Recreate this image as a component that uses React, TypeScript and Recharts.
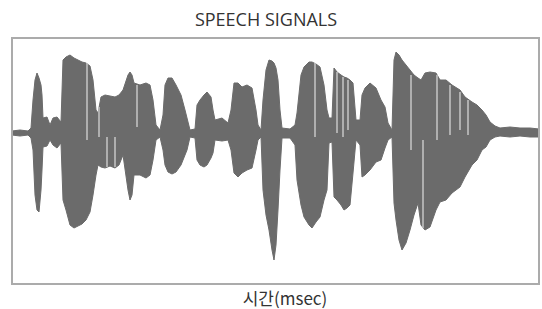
import React from "react";
import { ComposedChart, Area, XAxis, YAxis, ReferenceArea, ReferenceLine } from "recharts";

// envelope of the speech signal
const times = [
  0, 8, 16, 19, 21, 23, 25, 27, 29, 30, 31, 35, 38, 41, 45, 49, 51, 54, 58, 62, 66, 70, 74, 78, 81, 84, 86, 89,
  93, 98, 103, 107, 111, 116, 118, 120, 122, 128, 134, 138, 141, 144, 148, 151, 153, 156, 160, 164, 169, 173,
  175, 178, 183, 185, 188, 192, 195, 199, 201, 203, 210, 216, 219, 222, 226, 230, 235, 240, 244, 246, 249, 251,
  254, 257, 260, 262, 264, 266, 268, 270, 278, 283, 285, 289, 292, 297, 300, 304, 308, 312, 315, 317, 320, 322,
  325, 329, 332, 335, 338, 341, 344, 348, 350, 353, 358, 364, 369, 373, 376, 380, 382, 384, 387, 390, 394, 398,
  402, 406, 409, 413, 418, 424, 428, 434, 440, 448, 453, 460, 465, 470, 474, 478, 483, 488, 498, 508, 518, 527,
];
const upper = [
  2, 3, 2, 5, 33, 53, 60, 55, 48, 38, 15, 16, 8, 15, 16, 11, 73, 76, 78, 75, 73, 71, 70, 67, 53, 23, 20, 36,
  38, 37, 36, 38, 43, 58, 61, 58, 50, 48, 50, 48, 33, 8, 3, 18, 48, 55, 55, 48, 38, 23,
  15, 3, 4, 28, 33, 38, 41, 36, 23, 13, 15, 10, 23, 50, 50, 46, 48, 45, 23, 8, 3, 33,
  63, 73, 72, 70, 65, 53, 23, 5, 4, 8, 20, 58, 66, 71, 71, 69, 66, 48, 23, 15, 15, 65,
  61, 58, 56, 55, 53, 50, 13, 13, 38, 45, 50, 45, 33, 26, 10, 3, 73, 81, 78, 73, 68, 63,
  58, 55, 53, 60, 61, 60, 53, 53, 48, 43, 36, 31, 28, 23, 18, 11, 7, 5, 6, 5, 5, 4,
];
const lower = [
  -2, -3, -2, -5, -17, -62, -77, -79, -57, -37, -14, -13, -7, -12, -15, -10, -67, -77, -92, -95, -93, -91, -87,
  -79, -62, -42, -32, -34, -35, -33, -35, -32, -22, -57, -67, -62, -42, -42, -45, -42, -27, -7, -4, -17, -32,
  -39, -41, -39, -32, -22, -17, -4, -5, -27, -32, -34, -32, -25, -20, -7, -8, -7, -17, -40, -44, -40, -37, -35,
  -17, -7, -4, -57, -82, -97, -117, -127, -112, -77, -37, -5, -5, -12, -47, -72, -84, -92, -95, -89, -84, -67,
  -57, -10, -9, -64, -67, -72, -77, -75, -72, -40, -7, -12, -44, -42, -37, -29, -27, -15, -7, -4, -70, -87,
  -107, -117, -110, -97, -82, -70, -92, -97, -94, -77, -69, -67, -60, -54, -44, -32, -27, -17, -14, -7, -4, -3,
  -4, -3, -4, -4,
];

// light gaps between pitch pulses
const gapTimes = [75, 87, 95, 103, 125, 303, 325, 331, 336, 399, 411, 425, 438, 448, 456];
const gapUpper = [70, 26, -4, -4, 48, 70, 61, 56, 53, 58, -7, 58, 48, 41, 33];
const gapLower = [-7, -4, -34, -34, 6, -4, 0, -4, 3, -17, -95, -7, -2, 3, -2];

const rows = times.map((t, i) => ({ t, wave: [lower[i], upper[i]] }));

const App = () => {
  return (
    <div
      style={{
        position: "absolute",
        left: 0,
        top: 0,
        width: 542,
        height: 309,
        background: "#fff",
        overflow: "hidden",
      }}
    >
      <div
        style={{
          position: "absolute",
          top: 8,
          left: 0,
          width: 532,
          textAlign: "center",
          fontFamily: "'Open Sans', sans-serif",
          fontSize: 18,
          lineHeight: "22px",
          color: "#333",
        }}
      >
        SPEECH SIGNALS
      </div>
      <ComposedChart
        width={542}
        height={309}
        data={rows}
        margin={{ top: 38, right: 3, left: 12, bottom: 25 }}
      >
        <XAxis dataKey="t" type="number" domain={[0, 527]} hide />
        <YAxis type="number" domain={[-151, 95]} hide />
        <Area
          dataKey="wave"
          type="linear"
          stroke="#6b6b6b"
          strokeWidth={1}
          fill="#6b6b6b"
          fillOpacity={1}
          dot={false}
          activeDot={false}
          isAnimationActive={false}
        />
        {gapTimes.map((t, i) => (
          <ReferenceLine
            key={i}
            segment={[
              { x: t, y: gapLower[i] },
              { x: t, y: gapUpper[i] },
            ]}
            stroke="#c6c6c6"
            strokeWidth={1.5}
          />
        ))}
        <ReferenceArea x1={0} x2={527} y1={-151} y2={95} fill="none" stroke="#ababab" strokeWidth={2} />
      </ComposedChart>
      <div
        style={{
          position: "absolute",
          top: 288,
          left: 0,
          width: 570,
          textAlign: "center",
          fontFamily: "'Noto Sans CJK KR', sans-serif",
          fontSize: 17,
          lineHeight: "20px",
          color: "#333",
        }}
      >
        시간(msec)
      </div>
    </div>
  );
};

export default App;
